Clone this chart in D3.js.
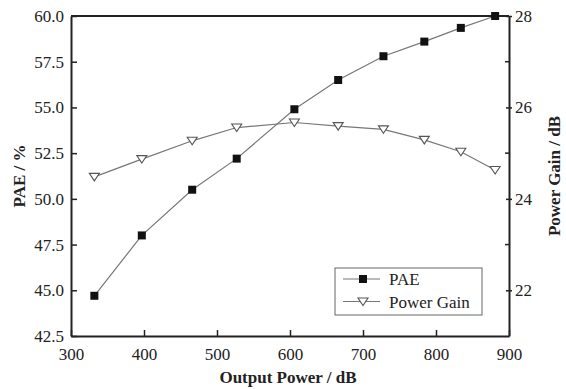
<!DOCTYPE html>
<html>
<head>
<meta charset="utf-8">
<script src="https://d3js.org/d3.v7.min.js"></script>
<style>
  body { margin: 0; background: #fff; }
  svg text { font-family: 'Liberation Serif' !important; }
</style>
</head>
<body>
<script>
// data
var outputPower = [332, 397, 466, 527, 606, 666, 728, 784, 834, 881];
var pae = [44.7, 48.0, 50.5, 52.2, 54.9, 56.5, 57.8, 58.6, 59.35, 60.0];
var powerGain = [24.48, 24.87, 25.27, 25.56, 25.67, 25.59, 25.52, 25.29, 25.03, 24.63];
var xTicks = [300, 400, 500, 600, 700, 800, 900];
var leftTicks = [42.5, 45.0, 47.5, 50.0, 52.5, 55.0, 57.5, 60.0];
var rightTicks = [22, 24, 26, 28];
var rightMinor = [23, 25, 27];

var serif = "'Liberation Serif'";

var W = 566, H = 389;
var margin = {top: 16, right: 57, bottom: 53, left: 71};
var w = W - margin.left - margin.right,
    h = H - margin.top - margin.bottom;

var svg = d3.select("body").append("svg")
    .attr("width", W).attr("height", H)
    .style("font-family", serif);
var g = svg.append("g")
    .attr("transform", "translate(" + margin.left + "," + margin.top + ")");

var x = d3.scaleLinear().domain([300, 900]).range([0, w]);
var yL = d3.scaleLinear().domain([42.5, 60]).range([h, 0]);
var yR = d3.scaleLinear().domain([21, 28]).range([h, 0]);

var axisColor = "#222";

// x axis, ticks pointing inward
var xAxis = g.append("g")
    .attr("transform", "translate(0," + h + ")")
    .call(d3.axisBottom(x).tickValues(xTicks).tickSizeInner(-6).tickSizeOuter(0).tickPadding(12).tickFormat(d3.format("d")));

// left axis
var lAxis = g.append("g")
    .call(d3.axisLeft(yL).tickValues(leftTicks).tickSizeInner(-6).tickSizeOuter(0).tickPadding(7).tickFormat(d3.format(".1f")));

// right axis, major ticks cross the line, minor ones inside
var rAxis = g.append("g")
    .attr("transform", "translate(" + w + ",0)")
    .call(d3.axisRight(yR).tickValues(rightTicks).tickSizeInner(3).tickSizeOuter(0).tickPadding(3).tickFormat(d3.format("d")));
rAxis.selectAll(".tick line").attr("x1", -3);
rAxis.selectAll(".minor").data(rightMinor).enter().append("line")
    .attr("class", "minor")
    .attr("x1", -4).attr("x2", 0)
    .attr("y1", function(d){ return yR(d); })
    .attr("y2", function(d){ return yR(d); });

[xAxis, lAxis, rAxis].forEach(function(a){
  a.attr("font-family", null);
  a.selectAll("text")
      .style("font-family", serif).style("font-size", "17px")
      .attr("fill", "#222");
  a.selectAll("path.domain").attr("stroke", axisColor).attr("stroke-width", 2);
  a.selectAll("line").attr("stroke", axisColor).attr("stroke-width", 1.5);
});

// top frame
g.append("line")
    .attr("x1", 0).attr("x2", w).attr("y1", 0).attr("y2", 0)
    .attr("stroke", axisColor).attr("stroke-width", 2);

// axis titles
function title(sel) {
  return sel.attr("text-anchor", "middle")
      .style("font-family", serif)
      .style("font-size", "17px").style("font-weight", "bold").attr("fill", "#222");
}
title(svg.append("text")
    .attr("transform", "translate(25," + (margin.top + h / 2) + ") rotate(-90)"))
    .text("PAE / %");
title(svg.append("text")
    .attr("transform", "translate(560," + (margin.top + h / 2) + ") rotate(-90)"))
    .text("Power Gain / dB");
title(svg.append("text")
    .attr("x", 288).attr("y", 383))
    .text("Output Power / dB");

var lineColor = "#777";
var paeData = outputPower.map(function(d, i){ return [d, pae[i]]; });
var gainData = outputPower.map(function(d, i){ return [d, powerGain[i]]; });

g.append("path").datum(paeData)
    .attr("fill", "none").attr("stroke", lineColor).attr("stroke-width", 1.2)
    .attr("d", d3.line().x(function(d){ return x(d[0]); }).y(function(d){ return yL(d[1]); }));
g.append("path").datum(gainData)
    .attr("fill", "none").attr("stroke", lineColor).attr("stroke-width", 1.2)
    .attr("d", d3.line().x(function(d){ return x(d[0]); }).y(function(d){ return yR(d[1]); }));

var tri = "M-5,-3.5L5,-3.5L0,4Z";

g.selectAll(".gain").data(gainData).enter().append("path")
    .attr("class", "gain")
    .attr("d", tri)
    .attr("transform", function(d){ return "translate(" + x(d[0]) + "," + yR(d[1]) + ")"; })
    .attr("fill", "#fff").attr("stroke", "#555").attr("stroke-width", 1.1);

g.selectAll(".pae").data(paeData).enter().append("rect")
    .attr("class", "pae")
    .attr("x", function(d){ return x(d[0]) - 4; })
    .attr("y", function(d){ return yL(d[1]) - 4; })
    .attr("width", 8).attr("height", 8)
    .attr("fill", "#111");

// legend
var lg = svg.append("g").attr("transform", "translate(335,268)");
lg.append("rect").attr("width", 147).attr("height", 47)
    .attr("fill", "#fff").attr("stroke", "#666").attr("stroke-width", 1);
var items = [{name: "PAE", type: "square"}, {name: "Power Gain", type: "tri"}];
items.forEach(function(it, i){
  var yy = 11 + i * 22.5;
  lg.append("line").attr("x1", 8).attr("x2", 45).attr("y1", yy).attr("y2", yy)
      .attr("stroke", lineColor).attr("stroke-width", 1.2);
  if (it.type === "square") {
    lg.append("rect").attr("x", 24).attr("y", yy - 4).attr("width", 8).attr("height", 8).attr("fill", "#111");
  } else {
    lg.append("path").attr("d", tri).attr("transform", "translate(28," + yy + ")")
        .attr("fill", "#fff").attr("stroke", "#555").attr("stroke-width", 1.1);
  }
  lg.append("text").attr("x", 54).attr("y", yy + 6)
      .style("font-family", serif).style("font-size", "17px").attr("fill", "#222")
      .text(it.name);
});
</script>
</body>
</html>
